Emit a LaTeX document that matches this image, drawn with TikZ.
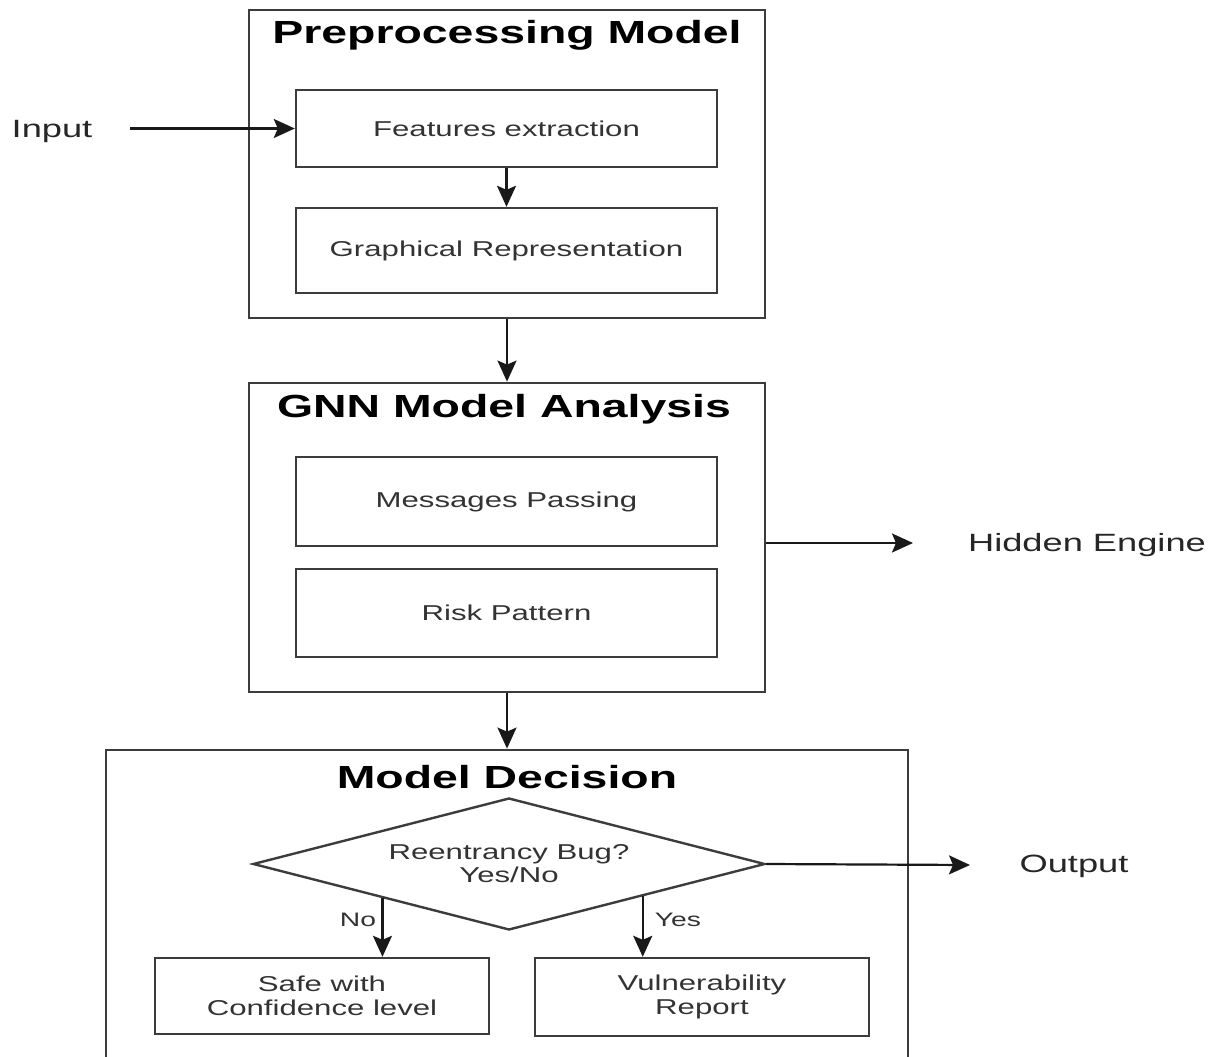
\documentclass[tikz,border=0pt]{standalone}
\usepackage{fontspec}
\setmainfont{Liberation Sans}[FakeStretch=1.45]
\usetikzlibrary{arrows.meta,shapes.geometric,calc}
\definecolor{linegray}{HTML}{3C3C3C}
\definecolor{textgray}{HTML}{333333}
\begin{document}
\begin{tikzpicture}[x=1pt,y=-1pt,
  outerbox/.style={draw=linegray, line width=2.8pt, minimum width=516pt, inner sep=0pt},
  innerbox/.style={draw=linegray, line width=2.4pt, minimum width=421pt, inner sep=0pt,
    text=textgray, font=\fontsize{21.5}{23}\selectfont, align=center},
  leafbox/.style={draw=linegray, line width=2.4pt, minimum width=334pt, inner sep=0pt,
    text=textgray, font=\fontsize{21.5}{24}\selectfont, align=center},
  heading/.style={font=\fontsize{32}{36}\selectfont\bfseries, text=black, inner sep=0pt},
  sidelabel/.style={font=\fontsize{25}{28}\selectfont, text=black!85, inner sep=0pt},
  edgelabel/.style={font=\fontsize{19.5}{22}\selectfont, text=textgray, inner sep=0pt},
  arr/.style={draw=black!90, line width=2.2pt, -{Stealth[length=21pt,width=19pt,inset=4pt]}},
]
\clip (0,0) rectangle (1219,1057);
\fill[white] (0,0) rectangle (1219,1057);

% Preprocessing stage
\node[outerbox, minimum height=308pt] (pre) at (507,164) {};
\node[heading] (preT) at (507,35) {Preprocessing Model};
\node[innerbox, minimum height=77pt] (feat) at (506.5,128.5) {Features extraction};
\node[innerbox, minimum height=85pt] (graph) at (506.5,250.5) {Graphical Representation};
\node[sidelabel] (in) at (52,131) {Input};
\coordinate (inS) at (130,128.5);
\draw[arr] (inS) -- (feat.west);
\draw[arr] (feat.south) -- (graph.north);

% GNN stage
\node[outerbox, minimum height=309pt] (gnn) at (507,537.5) {};
\node[heading] (gnnT) at (504,409) {GNN Model Analysis};
\node[innerbox, minimum height=89pt] (msg) at (506.5,501.5) {Messages Passing};
\node[innerbox, minimum height=88pt] (risk) at (506.5,613) {Risk Pattern};
\draw[arr] (pre.south) -- (gnn.north);
\node[sidelabel] (hid) at (1087,545) {Hidden Engine};
\coordinate (hidE) at (913,543);
\draw[arr] (gnn.east |- hidE) -- (hidE);

% Decision stage
\node[draw=linegray, line width=2.8pt, minimum width=802pt, minimum height=340pt, inner sep=0pt] (dec) at (507,920) {};
\node[heading] (decT) at (507,777) {Model Decision};
\draw[arr] (gnn.south) -- (gnn.south |- dec.north);
\node[diamond, draw=linegray, line width=2.4pt, minimum width=512pt, minimum height=132pt,
  aspect=3.88, inner sep=0pt, text=textgray, font=\fontsize{21.5}{23}\selectfont, align=center]
  (dia) at (509,864) {Reentrancy Bug?\\Yes/No};
\node[leafbox, minimum height=76pt] (safe) at (322,996) {Safe with\\Confidence level};
\node[leafbox, minimum height=78pt] (vul) at (702,997) {Vulnerability\\Report};

\coordinate (noS) at ($(dia.west)!0.508!(dia.south)$);
\coordinate (yesS) at ($(dia.south)!0.52!(dia.east)$);
\draw[arr] (noS) -- (noS |- safe.north);
\draw[arr] (yesS) -- (yesS |- vul.north);
\node[edgelabel] (noL) at (358,920) {No};
\node[edgelabel] (yesL) at (678,920) {Yes};

\node[sidelabel] (out) at (1074,866) {Output};
\coordinate (outE) at (970,865);
\draw[arr] (dia.east) -- (outE);
\end{tikzpicture}
\end{document}
